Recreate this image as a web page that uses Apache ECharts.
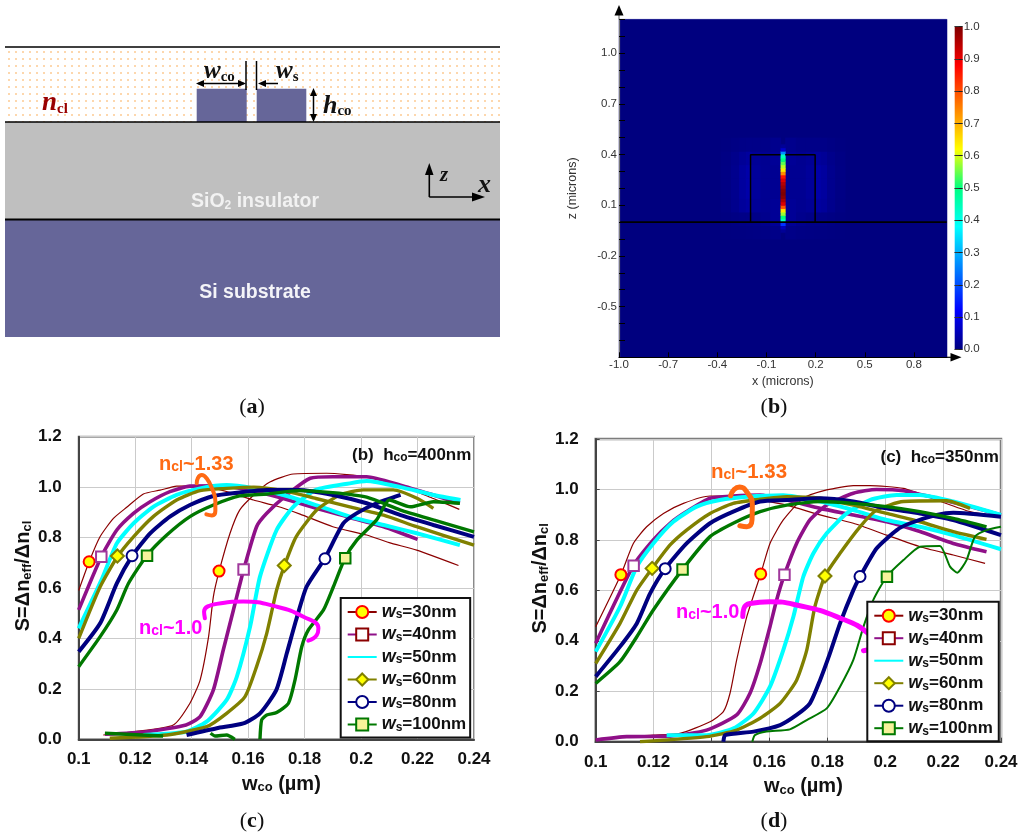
<!DOCTYPE html>
<html><head><meta charset="utf-8">
<style>html,body{margin:0;padding:0;background:#fff}#m{width:1024px;height:835px}</style>
<script src="https://cdn.jsdelivr.net/npm/echarts@6/dist/echarts.min.js"></script></head>
<body><div id="m"></div>
<script>
// ---------- panel (c): hco=400nm ----------
const c133_30=[[.1,.59],[.1037,.704],[.1076,.804],[.1123,.876],[.117,.92],[.1229,.973],[.1288,.988],[.1347,1.004],[.1406,1.005],[.1477,.995],[.1548,.975],[.1619,.949],[.17,.925],[.1784,.893],[.19,.843],[.202,.81],[.21,.78],[.2197,.75],[.2345,.689]];
const c133_40=[[.1,.513],[.108,.724],[.1135,.83],[.1194,.896],[.1253,.942],[.1323,.982],[.1394,1.004],[.1477,1.005],[.1548,1.0],[.163,.982],[.1725,.955],[.184,.916],[.196,.88],[.208,.843],[.22,.793]];
const c133_50=[[.1,.44],[.108,.63],[.1135,.777],[.1194,.856],[.1264,.922],[.1347,.969],[.143,.995],[.1524,1.008],[.162,.995],[.1725,.969],[.184,.929],[.196,.883],[.208,.85],[.2197,.817],[.235,.77]];
const c133_60=[[.1,.40],[.1076,.605],[.1137,.724],[.1194,.803],[.1264,.883],[.1347,.949],[.143,.986],[.1524,.995],[.162,1.0],[.1725,.986],[.184,.955],[.196,.922],[.208,.889],[.2197,.843],[.24,.77]];
const c133_80=[[.1,.347],[.1076,.46],[.1135,.618],[.119,.728],[.1253,.817],[.1323,.883],[.1394,.929],[.1477,.965],[.157,.979],[.1666,.989],[.178,.989],[.19,.969],[.202,.936],[.214,.889],[.2256,.85],[.24,.803]];
const c133_100=[[.1,.288],[.1076,.407],[.1135,.513],[.1176,.618],[.1241,.728],[.1312,.81],[.1394,.883],[.1477,.929],[.157,.965],[.1666,.973],[.178,.986],[.19,.978],[.202,.96],[.214,.909],[.2256,.87],[.24,.823]];
const c100_30=[[.1087,.017],[.1194,.03],[.1335,.057],[.1394,.143],[.143,.235],[.146,.407],[.1477,.566],[.1497,.665],[.1536,.817],[.157,.909],[.162,.969],[.1677,1.02],[.176,1.052],[.1878,1.055],[.202,1.041],[.2138,1.008],[.2256,.955],[.2348,.912]];
const c100_40=[[.1093,.02],[.1241,.03],[.138,.057],[.143,.09],[.1477,.196],[.1512,.354],[.1548,.513],[.1584,.671],[.163,.843],[.1666,.896],[.1737,.969],[.182,1.035],[.19,1.041],[.202,1.041],[.214,1.008],[.2256,.969],[.235,.936]];
const c100_50=[[.1229,.017],[.138,.03],[.1453,.07],[.1524,.156],[.156,.248],[.1607,.447],[.1642,.645],[.1701,.83],[.176,.922],[.184,.989],[.196,1.015],[.202,1.024],[.214,1.0],[.2256,.969],[.2352,.949]];
const c100_60=[[.111,.004],[.1312,.017],[.1453,.05],[.1524,.103],[.1589,.169],[.163,.288],[.1666,.42],[.1701,.592],[.1728,.687],[.177,.803],[.1843,.909],[.1925,.969],[.2008,.989],[.2114,.989],[.22,.955],[.2256,.916]];
const c100_80=[[.1382,.017],[.1489,.044],[.1583,.063],[.1642,.103],[.17,.196],[.1737,.341],[.177,.473],[.1807,.605],[.1872,.718],[.1937,.856],[.1984,.896],[.2055,.936],[.214,.969]];
const c100_100=[[.1642,0],[.1648,.077],[.1666,.096],[.1701,.106],[.1743,.143],[.1766,.235],[.179,.367],[.1813,.433],[.1867,.513],[.1902,.605],[.1943,.718],[.1985,.79],[.2055,.87],[.21,.949],[.2175,.922],[.2256,.942],[.235,.936]];
const c100_100low=[[.1467,.024],[.1483,.013],[.1524,.017],[.1553,0]];
const c100_100start=[[.1093,.024],[.1299,.013]];
const cMarks={30:[[.1037,.704],[.1497,.667]],40:[[.108,.724],[.1584,.673]],60:[[.1137,.727],[.1728,.689]],80:[[.1189,.728],[.1872,.716]],100:[[.1242,.728],[.1944,.718]]};
const cRing133=[[.1418,1.015],[.1422,1.036],[.1436,1.048],[.1453,1.035],[.1472,.995],[.1484,.945],[.1484,.905],[.1472,.888],[.1452,.892]];
const cRing100=[[.1447,.48],[.1444,.506],[.1489,.537],[.1583,.546],[.1701,.526],[.1796,.486],[.1849,.44],[.1843,.413],[.1813,.391]];
// ---------- panel (d): hco=350nm ----------
const d133_30=[[.1,.456],[.1087,.662],[.113,.786],[.1176,.852],[.1234,.905],[.1303,.945],[.1395,.974],[.1475,.974],[.1568,.958],[.166,.938],[.1775,.899],[.189,.866],[.2005,.819],[.212,.773],[.2235,.74],[.2345,.707]];
const d133_40=[[.1,.39],[.113,.698],[.1199,.8],[.1257,.866],[.1314,.912],[.1395,.965],[.1475,.974],[.1568,.978],[.166,.958],[.1775,.925],[.189,.899],[.2005,.872],[.212,.833],[.2235,.786],[.235,.753]];
const d133_50=[[.1,.357],[.1084,.535],[.1142,.694],[.1199,.786],[.1268,.872],[.1349,.932],[.1429,.958],[.1522,.971],[.1648,.977],[.1775,.952],[.189,.918],[.2005,.879],[.212,.852],[.2235,.819],[.24,.763]];
const d133_60=[[.1,.31],[.1084,.469],[.1142,.601],[.1195,.687],[.1257,.78],[.1314,.839],[.1395,.905],[.1475,.945],[.1568,.961],[.166,.971],[.1775,.965],[.189,.938],[.2005,.905],[.212,.872],[.2235,.833],[.235,.802]];
const d133_80=[[.1,.258],[.1084,.377],[.1142,.469],[.1188,.588],[.124,.686],[.1314,.786],[.1395,.866],[.1475,.912],[.1568,.952],[.166,.958],[.1775,.965],[.189,.952],[.2005,.925],[.212,.905],[.2235,.879],[.24,.819]];
const d133_100=[[.1,.231],[.1084,.317],[.1142,.416],[.1199,.522],[.13,.683],[.1395,.813],[.1475,.866],[.1568,.912],[.166,.938],[.1775,.952],[.189,.945],[.2005,.932],[.212,.912],[.2235,.885],[.235,.852]];
const d100_30=[[.1,.007],[.1107,.02],[.1199,.026],[.1291,.033],[.1395,.079],[.1441,.119],[.1464,.192],[.1487,.324],[.1522,.496],[.157,.665],[.1602,.786],[.1648,.879],[.1717,.965],[.1798,.998],[.189,1.015],[.1947,1.015],[.2063,1.004],[.2178,.958],[.2293,.912],[.24,.892]];
const d100_40=[[.1,.007],[.1107,.02],[.1257,.022],[.1383,.046],[.1487,.106],[.1533,.192],[.1568,.31],[.1602,.456],[.1625,.562],[.1652,.662],[.1694,.786],[.174,.879],[.1798,.938],[.189,.985],[.197,1.0],[.2063,.995],[.2178,.965],[.2293,.932],[.24,.899]];
const d100_50=[[.1245,.026],[.1383,.026],[.1476,.053],[.1545,.112],[.1602,.218],[.1648,.363],[.1683,.496],[.1717,.654],[.1752,.747],[.1798,.826],[.1867,.905],[.1947,.958],[.204,.978],[.212,.978],[.2235,.952],[.24,.899]];
const d100_60=[[.1153,0],[.1383,.02],[.1487,.046],[.1568,.093],[.1637,.152],[.1694,.244],[.1729,.363],[.1757,.535],[.1792,.657],[.1844,.747],[.1913,.852],[.197,.918],[.2063,.952],[.2212,.955],[.2293,.925]];
const d100_80=[[.1441,0],[.1447,.026],[.1545,.04],[.1637,.066],[.1694,.106],[.174,.152],[.1775,.244],[.1809,.35],[.1844,.469],[.189,.601],[.1913,.654],[.197,.766],[.204,.839],[.2086,.866],[.2178,.899],[.2235,.908],[.24,.892]];
const d100_100=[[.1541,0],[.155,.026],[.159,.04],[.1671,.049],[.1729,.086],[.1798,.132],[.1844,.218],[.189,.324],[.1925,.456],[.1959,.562],[.2005,.654],[.2063,.72],[.212,.773],[.2189,.776],[.2224,.694],[.2249,.67],[.2281,.72],[.231,.813],[.235,.839],[.24,.852]];
const dMarks={30:[[.1087,.662],[.157,.665]],40:[[.1131,.698],[.1652,.662]],60:[[.1195,.687],[.1792,.657]],80:[[.124,.686],[.1913,.655]],100:[[.13,.683],[.2006,.654]]};
const dRing133=[[.1466,.975],[.1478,1.0],[.1497,1.01],[.1522,.99],[.1541,.94],[.154,.88],[.1522,.852],[.1498,.856]];
const dRing100=[[.1508,.496],[.1512,.529],[.1533,.548],[.1602,.555],[.1694,.542],[.1832,.496],[.1947,.423],[.196,.38],[.1925,.361]];
// ---------- shared ----------
const wsNames=['ws=30nm','ws=40nm','ws=50nm','ws=60nm','ws=80nm','ws=100nm'];
const wsKeys=[30,40,50,60,80,100];
const wsColors=['#8b0000','#8f1088','#00ffff','#808000','#000080','#007800'];
const wsWidths=[1.2,3.6,4,3.4,4,3.4];
const wsSymbols=['circle','rect','none','diamond','circle','rect'];
const wsSizes=[11,10.5,0,13,11,10.5];
const wsFills=['#ffff00','#ffffff','#ffffff','#ffff00','#ffffff','#f6f29a'];
const wsBorders=['#ff0000','#a0389c','#00ffff','#808000','#000080','#007800'];
// ---------- panel (b) field ----------
const fieldColors=['#00007f','#0000ff','#00ffff','#00ff80','#ffff00','#ff0000','#7f0000'];
const fieldStops=[0,.12,.38,.5,.62,.88,1];
const slotY=[0,.02,.04,.06,.08,.10,.12,.14,.16,.18,.20,.22,.24,.26,.28,.30,.32,.34,.36,.38];
const slotV=[.42,.5,.6,.68,.78,.88,.94,.98,1,.99,.96,.93,.88,.82,.74,.68,.62,.56,.5,.42];
const capY=[-.06,-.04,-.02,.4,.42,.44];
const capV=[.03,.08,.2,.26,.1,.03];
const glowX=[.014,.08,.14,.19,.23,.27,.32,.38];
const glowY=[-.1,-.02,.06,.14,.26,.34,.42,.5];
const glowV=[[.012,.008,.006,.005,.004,.002,.001],
             [.03,.018,.012,.012,.01,.006,.002],
             [.03,.024,.03,.045,.035,.018,.006],
             [.025,.025,.035,.055,.04,.02,.008],
             [.025,.025,.035,.055,.04,.02,.008],
             [.03,.024,.03,.04,.03,.016,.006],
             [.018,.012,.012,.012,.01,.006,.002]];
const fieldTicksX=[-1,-.7,-.4,-.1,.2,.5,.8];
const fieldTicksY=[-.5,-.2,.1,.4,.7,1];
const coreLeft=[[-.197,0],[-.197,.398],[-.014,.398]];
const coreRight=[[.197,0],[.197,.398],[.014,.398]];
const interfaceLine=[[-1,0],[1,0]];

const AR='"Liberation Sans",Arial,sans-serif', SE='"Liberation Serif","Times New Roman",serif';
const cells=[[-1,1,-.8,1.2,0]];
for(let r=0;r<glowV.length;r++)for(let c=0;c<glowV[r].length;c++){
  cells.push([glowX[c],glowX[c+1],glowY[r],glowY[r+1],glowV[r][c]]);
  cells.push([-glowX[c+1],-glowX[c],glowY[r],glowY[r+1],glowV[r][c]]);
}
capY.forEach((y,i)=>cells.push([-.014,.014,y,y+.02,capV[i]]));
slotY.forEach((y,i)=>cells.push([-.014,.014,y,y+.02,slotV[i]]));

function lineS(name,i,data,g,opt){
  return Object.assign({type:'line',name,xAxisIndex:g,yAxisIndex:g,data,smooth:.2,animation:false,
    showSymbol:false,symbol:wsSymbols[i],symbolSize:wsSizes[i],silent:true,
    lineStyle:{color:wsColors[i],width:wsWidths[i]},
    itemStyle:{color:wsFills[i],borderColor:wsBorders[i],borderWidth:2},z:3},opt||{});
}
function addChart(g,sets,marks,ring1,ring2,ringW){
  const out=[];
  sets.forEach((d,i)=>{ d.forEach(arr=>out.push(lineS(wsNames[i],i,arr,g))); });
  out.push({type:'line',name:'ring133',xAxisIndex:g,yAxisIndex:g,data:ring1,smooth:.5,symbol:'none',animation:false,silent:true,z:5,lineStyle:{color:'#ff6a13',width:ringW,cap:'round'}});
  out.push({type:'line',name:'ring100',xAxisIndex:g,yAxisIndex:g,data:ring2,smooth:.5,symbol:'none',animation:false,silent:true,z:5,lineStyle:{color:'#ff00ff',width:ringW,cap:'round'}});
  wsKeys.forEach((k,i)=>{ if(!marks[k])return;
    out.push({type:'scatter',name:'mark'+g+k,xAxisIndex:g,yAxisIndex:g,data:marks[k],symbol:wsSymbols[i],symbolSize:wsSizes[i],animation:false,silent:true,z:6,
      itemStyle:{color:wsFills[i],borderColor:wsBorders[i],borderWidth:2,opacity:1}});
  });
  return out;
}
const series=[
 {type:'custom',name:'field',xAxisIndex:0,yAxisIndex:0,data:cells,animation:false,silent:true,z:1,
  encode:{x:[0,1],y:[2,3]},
  renderItem(p,api){
    const a=api.coord([api.value(0),api.value(3)]),b=api.coord([api.value(1),api.value(2)]);
    return {type:'rect',shape:{x:a[0],y:a[1],width:b[0]-a[0]+.5,height:b[1]-a[1]+.5},style:{fill:api.visual('color')}};
  }},
 {type:'line',name:'coreLeft',xAxisIndex:0,yAxisIndex:0,data:coreLeft,symbol:'none',animation:false,silent:true,z:2,lineStyle:{color:'#000',width:1.5}},
 {type:'line',name:'coreRight',xAxisIndex:0,yAxisIndex:0,data:coreRight,symbol:'none',animation:false,silent:true,z:2,lineStyle:{color:'#000',width:1.5}},
 {type:'line',name:'interface',xAxisIndex:0,yAxisIndex:0,data:interfaceLine,symbol:'none',animation:false,silent:true,z:2,lineStyle:{color:'#000',width:1.8}},
 ...addChart(2,[[c133_30,c100_30],[c133_40,c100_40],[c133_50,c100_50],[c133_60,c100_60],[c133_80,c100_80],[c133_100,c100_100,c100_100low,c100_100start]],cMarks,cRing133,cRing100,4),
 ...addChart(3,[[d133_30,d100_30],[d133_40,d100_40],[d133_50,d100_50],[d133_60,d100_60],[d133_80,d100_80],[d133_100,d100_100]],dMarks,dRing133,dRing100,5)
];
series.filter(s=>s.data===d100_100).forEach(s=>{ s.lineStyle={color:wsColors[5],width:2}; });

function plotAxes(g){
  const x={gridIndex:g,type:'value',min:.1,max:.24,interval:.02,
    axisLine:{onZero:false,show:true,lineStyle:{color:'#444',width:2}},axisTick:{show:g===3,inside:true,length:4,lineStyle:{color:'#444'}},
    splitLine:{show:true,lineStyle:{color:'#cbcbcb',width:1}},
    axisLabel:{color:'#111',fontFamily:AR,fontWeight:'bold',fontSize:17,margin:12,showMinLabel:true,showMaxLabel:true,formatter:v=>String(+v.toFixed(2))},
    name:'{b|w}{s|co}{b| (µm)}',nameLocation:'middle',nameGap:35,
    nameTextStyle:{color:'#111',padding:[0,0,0,10],rich:{b:{fontFamily:AR,fontWeight:'bold',fontSize:20,color:'#111'},s:{fontFamily:AR,fontWeight:'bold',fontSize:13,color:'#111',verticalAlign:'bottom',padding:[6,0,0,0]}}}};
  const y={gridIndex:g,type:'value',min:0,max:1.2,interval:.2,
    axisLine:{onZero:false,show:true,lineStyle:{color:'#444',width:2}},axisTick:{show:g===3,inside:true,length:4,lineStyle:{color:'#444'}},
    splitLine:{show:true,lineStyle:{color:'#cbcbcb',width:1}},
    axisLabel:{color:'#111',fontFamily:AR,fontWeight:'bold',fontSize:17,margin:17,formatter:v=>v.toFixed(1)},
    name:'{b|S=Δn}{s|eff}{b|/Δn}{s|cl}',nameLocation:'middle',nameGap:45,
    nameTextStyle:{color:'#111',padding:[0,0,0,24],rich:{b:{fontFamily:AR,fontWeight:'bold',fontSize:20,color:'#111'},s:{fontFamily:AR,fontWeight:'bold',fontSize:13,color:'#111',verticalAlign:'bottom',padding:[6,0,0,0]}}}};
  return {x,y};
}
const pc=plotAxes(2),pd=plotAxes(3);
function legendFor(left,top,padR){
  return {show:true,orient:'vertical',left,top,height:300,itemWidth:29,itemHeight:15,itemGap:4.5,padding:[5,padR,4,6],
    backgroundColor:'#fff',borderColor:'#111',borderWidth:2,z:8,selectedMode:false,
    data:wsNames.map((n,i)=>i===2?{name:n,itemStyle:{opacity:0}}:i===1?{name:n,itemStyle:{borderColor:'#8b0000'}}:{name:n}),
    textStyle:{color:'#111',fontFamily:AR,fontSize:17,fontWeight:'bold',
      rich:{w:{fontFamily:AR,fontStyle:'italic',fontSize:18,color:'#111'},s:{fontFamily:AR,fontSize:12,color:'#111',verticalAlign:'bottom',padding:[5,0,0,0]},n:{fontFamily:AR,fontWeight:'bold',fontSize:17,color:'#111'}}},
    formatter:n=>'{w|w}{s|s}{n|'+n.slice(2)+'}'};
}
// dotted cladding pattern
const pat=document.createElement('canvas');pat.width=7;pat.height=7;
const px=pat.getContext('2d');px.fillStyle='#fdd7ad';px.fillRect(1,2,2,2);
function txt(x,y,text,rich,extra){return Object.assign({type:'text',x,y,z:20,silent:true,style:Object.assign({text,rich,align:'left',verticalAlign:'middle'},extra||{})});}
function rect(x,y,w,h,fill){return {type:'rect',z:5,silent:true,shape:{x,y,width:w,height:h},style:{fill}};}
function ln(x1,y1,x2,y2,w,c){return {type:'line',z:10,silent:true,shape:{x1,y1,x2,y2},style:{stroke:c||'#000',lineWidth:w||1.5}};}
function tri(p){return {type:'polygon',z:10,silent:true,shape:{points:p},style:{fill:'#000'}};}
const cap=(x,y,l)=>txt(x,y,'{a|(}{b|'+l+'}{a|)}',{a:{fontFamily:SE,fontSize:22,fill:'#111'},b:{fontFamily:SE,fontSize:22,fontWeight:'bold',fill:'#111'}},{align:'center'});
const ncl=(x,y,color,s,sz)=>txt(x,y,'{a|n}{b|cl}{a|~'+s+'}',{a:{fontFamily:AR,fontWeight:'bold',fontSize:sz,fill:color},b:{fontFamily:AR,fontWeight:'bold',fontSize:14,fill:color,verticalAlign:'bottom',padding:[6,0,0,0]}});
const head=(x,y,l,v)=>txt(x,y,'{a|('+l+')  h}{s|co}{a|='+v+'nm}',{a:{fontFamily:AR,fontWeight:'bold',fontSize:17,fill:'#111'},s:{fontFamily:AR,fontWeight:'bold',fontSize:12,fill:'#111',verticalAlign:'bottom',padding:[5,0,0,0]}});
const serifSym=(x,y,big,small,color,bs,ss)=>txt(x,y,'{a|'+big+'}{b|'+small+'}',{a:{fontFamily:SE,fontStyle:'italic',fontWeight:'bold',fontSize:bs,fill:color},b:{fontFamily:SE,fontWeight:'bold',fontSize:ss,fill:color,verticalAlign:'bottom',padding:[8,0,0,0]}});

const graphic=[
 rect(5,47,495,75,{image:pat,repeat:'repeat'}),
 rect(5,122,495,97,'#bfbfbf'),
 rect(5,220,495,117,'#666699'),
 rect(196.7,88.7,50,33.3,'#666699'),
 rect(256.7,88.7,49.6,33.3,'#666699'),
 ln(5,47,500,47,1.4),ln(5,122,500,122,1.6),ln(5,219.5,500,219.5,2.2),
 ln(246,61,246,90),ln(256.5,61,256.5,90),
 ln(198,83.5,244,83.5),tri([[196,83.5],[204,80],[204,87]]),tri([[246,83.5],[238,80],[238,87]]),
 ln(262,83.5,278,83.5),tri([[258,83.5],[266,80],[266,87]]),
 ln(313.5,91,313.5,120),tri([[313.5,88],[310,96],[317,96]]),tri([[313.5,122],[310,114],[317,114]]),
 ln(429.3,197,429.3,170,1.6),tri([[429.3,163],[425,175],[433.5,175]]),
 ln(429.3,197,478,197,1.6),tri([[485,197],[472,192.5],[472,201.5]]),
 txt(440,176,'z',{},{font:'italic bold 21px '+SE,fill:'#111'}),
 txt(478,185,'x',{},{font:'italic bold 26px '+SE,fill:'#111'}),
 serifSym(42,103,'n','cl','#990000',27,15),
 serifSym(204,72,'w','co','#111',25,15),
 serifSym(276,72,'w','s','#111',25,15),
 serifSym(323,106,'h','co','#111',26,15),
 txt(255,201.5,'{a|SiO}{b|2}{a| insulator}',{a:{fontFamily:AR,fontWeight:'bold',fontSize:19.5,fill:'#f2f2f2'},b:{fontFamily:AR,fontWeight:'bold',fontSize:12,fill:'#f2f2f2',verticalAlign:'bottom',padding:[5,0,0,0]}},{align:'center'}),
 txt(255,293,'Si substrate',{},{font:'bold 19.5px '+AR,fill:'#f4f4f8',align:'center'}),
 cap(252,407.7,'a'),cap(774,407,'b'),cap(252,821,'c'),cap(774,821,'d'),
 head(352,455,'b','400'),head(880.5,457,'c','350'),
 ncl(159,464,'#ff6a13','1.33',20),ncl(139,628,'#ff00ff','1.0',20),
 ncl(711,472,'#ff6a13','1.33',20.5),ncl(676,612.5,'#ff00ff','1.0',20),
 ln(619,15,619,19.3,1.2,'#777'),tri([[619,5],[614.5,15.5],[623.5,15.5]]),
 ln(946.7,357.3,952,357.3,1.2),tri([[961.5,357.3],[950.5,353],[950.5,361.6]])
];

const NB={outerBoundsMode:'none',containLabel:false};
const option={
 backgroundColor:'#fff',animation:false,
 grid:[
  Object.assign({left:619,top:19.3,width:327.7,height:338,show:true,borderColor:'#a5a5d5',borderWidth:1,backgroundColor:'#00007f'},NB),
  Object.assign({left:954.7,top:26.7,width:8,height:322.6,show:true,borderWidth:0,
   backgroundColor:new echarts.graphic.LinearGradient(0,1,0,0,fieldStops.map((o,i)=>({offset:o,color:fieldColors[i]})))},NB),
  Object.assign({left:78.7,top:436.7,width:395.3,height:302.6,show:true,borderColor:'#8a8a8a',borderWidth:2},NB),
  Object.assign({left:595.7,top:439,width:405.3,height:302.7,show:true,borderColor:'#7d7d7d',borderWidth:2.5},NB)
 ],
 xAxis:[
  {gridIndex:0,type:'value',min:-1,max:1,interval:.1,splitLine:{show:false},z:5,
   axisLine:{onZero:false,lineStyle:{color:'#000',width:1.2}},
   axisTick:{show:true,inside:true,length:5,customValues:fieldTicksX,lineStyle:{color:'#000'}},
   axisLabel:{customValues:fieldTicksX,color:'#333',fontFamily:AR,fontSize:11.5,margin:2,formatter:v=>v.toFixed(1)},
   name:'x (microns)',nameLocation:'middle',nameGap:18,nameTextStyle:{color:'#333',fontFamily:AR,fontSize:12.5}},
  {gridIndex:1,type:'value',show:false,min:0,max:1},
  pc.x,pd.x
 ],
 yAxis:[
  {gridIndex:0,type:'value',min:-.8,max:1.2,interval:.1,splitLine:{show:false},z:5,
   axisLine:{onZero:false,lineStyle:{color:'#777',width:1.2}},
   axisTick:{show:true,inside:true,length:6,lineStyle:{color:'#000'}},
   axisLabel:{customValues:fieldTicksY,color:'#333',fontFamily:AR,fontSize:11.5,margin:2,formatter:v=>v.toFixed(1)},
   name:'z (microns)',nameLocation:'middle',nameGap:40,nameTextStyle:{color:'#333',fontFamily:AR,fontSize:12.5}},
  {gridIndex:1,type:'value',min:0,max:1,interval:.1,position:'right',
   axisLine:{show:false},axisTick:{show:true,length:4,lineStyle:{color:'#333'}},
   splitLine:{show:true,lineStyle:{color:'#222',width:1}},
   axisLabel:{color:'#333',fontFamily:AR,fontSize:11.5,margin:1,formatter:v=>v.toFixed(1)}},
  pc.y,pd.y
 ],
 visualMap:[{type:'continuous',show:false,seriesIndex:0,dimension:4,min:0,max:1,
   inRange:{color:fieldColors}}],
 legend:[legendFor(340.7,598,4),legendFor(867.3,601.7,6)],
 graphic:{elements:graphic},
 series
};
const chart=echarts.init(document.getElementById('m'),null,{renderer:'canvas',width:1024,height:835});
chart.setOption(option);
</script></body></html>
